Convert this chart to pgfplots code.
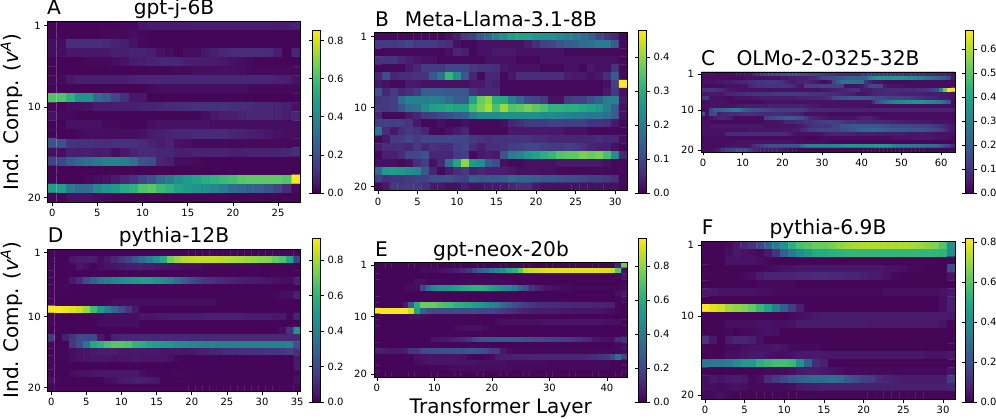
\documentclass[border=0pt]{standalone}
\usepackage{fontspec}
\setmainfont{DejaVu Sans}
\usepackage{pgfplots}
\pgfplotsset{compat=1.18}
% values in hundredths, one \hmrow per component; rows end in 1s when cut short
\newcount\hmx \newcount\hmy
\newcommand\hmbegin[1]{\def\hmcols{#1}\hmy=0 \gdef\hmbuf{}}
\newcommand\hmcell[1]{\xdef\hmbuf{\hmbuf (\the\hmx,\the\hmy) [#1e-2]}\advance\hmx 1 }
\def\hmloop#1 {\ifx!#1\else\ifnum\hmx<\hmcols\relax\hmcell{#1}\fi\expandafter\hmloop\fi}
\def\hmpad{\ifnum\hmx<\hmcols\relax\hmcell{1}\expandafter\hmpad\fi}
\newcommand\hmrow[1]{\advance\hmy 1 \hmx=0 \hmloop#1 ! \hmpad}
\def\hmplotb#1{\addplot[matrix plot,draw=mapped color,line width=0.3pt,point meta=explicit] coordinates {#1};}
\newcommand\hmplot[1]{\expandafter\hmplotb\expandafter{#1}}
\newcommand\tk{\fontsize{10}{11}\selectfont}
\newcommand\ttl{\fontsize{20.2}{22}\selectfont}
\pgfplotsset{
  hm/.style={
    scale only axis, colormap/viridis, y dir=reverse,
    ymin=0.5, ymax=20.5, ytick={1,10,20}, enlargelimits=false,
    tick align=outside, tick pos=left, point meta min=0, axis on top,
    tick label style={font=\tk}, /pgf/number format/assume math mode=true,
    major tick length=3.5pt, tick style={black,line width=0.7pt},
    axis line style={line width=0.7pt}, anchor=south west, colorbar,
  },
  cb/.style n args={4}{
    colorbar style={at={(#1,#2)}, anchor=south west, scale only axis, width=8.5pt, height=#3,
      ytick={#4}, tick align=outside, major tick length=3.5pt, tick style={black,line width=0.7pt},
      axis line style={line width=0.7pt},
      yticklabel style={font=\tk,/pgf/number format/.cd,fixed,fixed zerofill,precision=1,assume math mode=true}},
  },
}
% A gpt-j-6B
\hmbegin{28}
\hmrow{1 1 1 1 1 1 1 1 2 2 5 6 6 6 6 6 7 7 7 7 7 7 7 7 7 6 6 8}
\hmrow{1 1 1 1 1 1 2 2 2 3 2}
\hmrow{3 3 11 11 11 11 10 8 7 4 2}
\hmrow{3 3 5 5 5 5 5 7 7 8 8 7 4 3 1 3 3 5 7 9 10 11 11 11 10 7 1 9}
\hmrow{1 1 1 1 2 2 2 3 4 6 7 8 9 9 9 7 7 6 6 5 4 3 2}
\hmrow{1 1 1 1 1 1 1 1 1 1 1 1 1 1 2 2 3 3 3 3 3 3 2 2 2 2 2 2}
\hmrow{2 2 5 7 7 7 7 7 7 8 9 9 9 9 9 9 9 9 9 9 9 9 9 9 9 8 7 4}
\hmrow{1 1 1 1 1 1 1 1 1 1 1 2 3 3 3 3 3 3 3 3 3 3 2 2 2 2 2 2}
\hmrow{62 62 55 44 44 30 25 18 12 5 5}
\hmrow{1 1 3 3 4 6 6 7 7 7 8 8 9 10 10 11 12 12 12 12 11 11 10 9 9 8 7 4}
\hmrow{4 2 2 1 1 1 1 1 1 1 1 1 1 1 1 1 1 3 5 7 7 8 9 9 9 8 7 9}
\hmrow{1 1 4 4 4 4 2 2 1 1 1 3 4 4 4 4 4 4 3 3 3 3 3 3 3 3 3 3}
\hmrow{1 1 1 2 3 3 3 3 3 3 4 6 7 8 9 9 10 10 10 10 9 8 7 6 5 4 3 3}
\hmrow{22 22 13 12 12 11 11 12 12 12 10 8 6 8 4 3 2 2 2 2 2 2 2 2 2 2 2 2}
\hmrow{3 3 7 7 7 6 6 3 5 8 10 10 9 9 7 7 8 8 8 8 7 7 8 8 8 8 9 11}
\hmrow{18 18 24 28 31 34 38 38 36 32 22 20 9 7 3 3 2}
\hmrow{1}
\hmrow{1 1 1 1 2 3 4 6 9 12 18 22 30 35 42 47 50 53 56 58 60 63 64 64 64 64 62 85}
\hmrow{48 48 35 30 30 40 45 47 52 55 62 64 58 55 50 46 44 42 40 36 30 28 27 25 22 18 10 2}
\hmrow{1 1 4 4 4 2 2}
\let\cellsA\hmbuf
% B Meta-Llama-3.1-8B
\hmbegin{32}
\hmrow{1 1 1 1 1 1 1 1 1 2 4 8 9 14 17 21 24 27 28 28 26 25 25 23 21 19 17 14 10 7 5 1}
\hmrow{8 8 8 9 10 8 8 8 7 6 2 1 1 2 2 2 2 2 2 4 6 9 10 12 14 15 17 18 20 20 14 1}
\hmrow{1 1 1 1 1 1 1 1 1 2 5 4 1 2 2 3 3 3 2 2 2 2 2 2}
\hmrow{7 7 7 5 4 3 2 2 1 1 1 1 1 1 2 2 2 2 1 1 1 2 2 2 2 2 2 2 2 2 2 1}
\hmrow{1 1 1 1 3 5 8 8 8 10 10 10 8 7 7 6 3 2 2 2 2 1 1 1 2 2 1 3 2 2 7 1}
\hmrow{5 11 5 6 6 7 7 13 18 32 24 13 5 1 5 5 1 3 6 6 6 6 6 6 4 3 3 2 3 6 14 1}
\hmrow{3 2 1 1 3 3 2 2 2 2 2 2 3 3 5 4 1 1 1 1 1 1 1 1 1 1 1 1 1 2 9 48}
\hmrow{12 5 8 5 6 8 14 14 14 13 13 13 7 5 5 5 1 1 1 1 1 1 1 1 1 1 1 1 1 3 8 2}
\hmrow{7 8 9 17 21 21 20 21 20 17 14 14 28 37 40 30 29 21 16 11 10 8 2 2 8 9 9 12 15 20 21 3}
\hmrow{8 8 9 12 17 18 23 27 28 29 28 28 34 38 42 34 41 35 36 38 36 34 31 31 30 30 29 28 26 21 14 2}
\hmrow{5 1 1 1 3 5 8 9 10 11 13 14 20 23 23 23 24 24 24 24 24 23 23 22 21 20 20 19 19 17 14 2}
\hmrow{9 9 9 9 7 3 1 1 2 1 1 2 1 1 1 1 2 5 6 8 8 8 9 9 9 9 9 7 7 6 3 1}
\hmrow{18 6 3 6 8 7 5 1 1 2 3 5 1 1 1 1 1 3 3 3 3 3 3 3 2 2 2}
\hmrow{1 3 8 8 10 8 10 10 10 10 10 10 8 7 6 7 7 7 7 7 6 6 5 5 5 5 5 5 6 5 5 2}
\hmrow{4 6 6 6 5 8 5 7 6 6 9 10 6 4 6 6 7 9 9 10 10 9 8 8 9 8 7 5 4 4 2 1}
\hmrow{1 4 4 6 10 10 12 5 5 5 8 9 1 3 4 3 13 20 22 26 28 30 32 35 36 36 38 37 38 34 24 5}
\hmrow{2 2 2 1 2 6 9 2 5 17 28 40 26 24 14 11 2 1 1 2 2 2 2 3 3 3 3 3 3 2}
\hmrow{17 26 27 26 24 22 13 5 1 3 6 8 4 5 4 4 4 3 2 2 2 2 2}
\hmrow{9 6 7 7 8 9 9 11 11 12 10 9 14 13 13 13 14 16 15 15 14 13 13 12 11 11 10 9 9 8 6 1}
\hmrow{1 3 8 8 8 8 6 3 3 2 2 4 2 2 3 3 3 5 6 6 3 2 2 2 2 2 2 2 2 2 2 1}
\let\cellsB\hmbuf
% C OLMo-2-0325-32B
\hmbegin{64}
\hmrow{3 3 3 3 2 2 2 2 3 3 3 3 4 6 8 10 12 13 14 14 15 15 15 15 15 15 14 14 14 13 12 11 10 10 8 8 8 8 8 8 9 10 11 11 11 11 11 11 10 10 10 9 9 9 8 8 8 8 8 7 7 7 5 3}
\hmrow{2 2 2 2 2 2 2 2 2 2 2 3 3 3 3 3 3 3 3 3 4 4 5 5 6 6 6 7 8 10 14 14 15 15 17 18 20 20 20 20 20 22 30 34 36 36 36 36 36 36 35 35 34 33 32 30 28 26 24 22 20 18 14 4}
\hmrow{3 3 3 3 4 4 5 5 6 6 7 7 8 9 10 10 11 11 11 10 9 7 5 5 6 6 7 6 5 4 2 2 4 14 20 25 26 26 26 25 25 10 6 4 3 3 2 2 2 2 2 2 2 2 2 2 2 2 2 2 2 2 2 2}
\hmrow{2 2 2 2 2 2 3 3 3 3 3 3 7 8 9 9 10 10 10 10 10 10 9 8 5 4 12 12 12 12 13 13 13 13 13 12 3 3 3 3 4 8 14 15 15 14 5 3 3 3 3 3 2 2 2 2 2 2 2 2 2 2 2 2}
\hmrow{9 9 10 10 8 7 5 4 4 3 3 3 3 3 3 3 3 3 3 3 3 3 3 3 3 3 3 3 3 3 4 4 5 5 6 6 7 8 9 9 5 5 5 6 7 7 8 8 8 8 8 8 8 8 9 9 10 11 14 15 32 52 67 67}
\hmrow{4 4 4 4 4 4 6 7 7 8 8 9 9 10 10 10 10 10 11 11 11 11 11 11 11 11 11 10 10 10 10 9 8 8 7 7 6 6 5 3 3 3 5 6 7 7 7 7 7 7 6 6 6 6 6 6 5 5 5 5 5 5 4 3}
\hmrow{10 11 3 3 3 3 2 2 3 3 3 3 3 4 4 5 5 5 5 5 5 5 5 5 6 6 6 6 7 7 7 8 10 14 15 16 17 18 18 18 18 18 17 16 15 15 14 14 13 13 13 12 12 11 10 9 8 7 7 6 5 5 4 3}
\hmrow{2 2 3 3 3 3 3 2 2 2 2 2 2 2 2 2 3 3 3 3 3 3 3 3 3 3 3 3 3 3 3 3 3 3 3 3 3 3 3 3 3 3 3 8 16 20 24 27 30 32 33 33 34 35 35 36 35 33 32 30 28 22 18 2}
\hmrow{3 3 3 3 3 3 3 3 3 4 4 5 5 5 5 5 5 6 6 6 6 6 6 6 6 6 5 5 4 4 3 3 3 3 3 3 3 3 3 3 3 3 2 2 2 2 2 2 2 2 2 2 2 2 2 2 2 2 2 2 2 2 2 2}
\hmrow{1 2 13 20 20 22 24 26 28 28 22 20 18 17 16 15 14 13 12 12 12 12 12 12 12 12 10 8 7 7 7 7 7 7 6 6 6 6 6 6 6 6 6 6 6 6 6 6 6 6 6 6 6 6 6 6 6 6 6 6 6 6 6 6}
\hmrow{20 3 15 15 5 7 7 8 8 8 9 9 9 9 8 8 8 8 8 8 8 7 7 6 6 5 3 3 3 3 3 3 2 2 2 2 2 2 2 2 2 2 2 2 2 2 2 2 2 2 2 2 2 2 2 2 2 2 2 2 2 2 2 2}
\hmrow{2 2 3 5 6 7 6 5 2 2 2 2 2 2 2 2 13 14 15 17 18 20 20 20 18 16 12 8 6 6 5 4 3 3 3 3 3 3 3 4 6 6 6 5 4 3 2 2 2 2 2 2 2 2 2 2 2 2 2 2 2 2 2 2}
\hmrow{3 3 2 2 2 2 2 2 2 2 2 2 2 2 2 2 3 3 3 3 4 6 7 7 8 8 9 9 10 11 12 13 13 13 12 11 10 9 9 8 8 8 8 8 8 7 7 7 6 6 6 5 5 5 5 4 4 4 3 3 3 3 3 3}
\hmrow{3 3 4 4 4 4 4 4 4 4 4 4 4 4 4 4 3 3 3 3 3 3 3 3 4 5 7 8 9 10 10 10 11 13 14 16 17 18 19 19 19 19 19 19 18 18 17 16 15 15 15 15 14 14 14 13 13 12 11 10 9 7 5 4}
\hmrow{3 3 3 3 3 3 3 3 3 3 3 3 4 4 4 4 4 4 4 4 4 4 4 5 5 7 9 11 12 13 14 14 14 14 14 15 16 17 18 20 22 22 23 23 23 22 20 20 19 19 19 19 18 18 18 17 17 16 15 14 12 9 6 4}
\hmrow{3 3 3 3 3 3 7 8 8 8 8 8 8 8 8 8 8 8 8 8 8 8 6 4 3 3 3 3 3 3 4 5 6 6 6 6 6 6 6 5 5 5 5 5 5 5 5 5 5 5 5 5 4 4 4 4 4 4 4 3 3 3 3 3}
\hmrow{2 2 2 2 2 2 2 2 2 2 2 2 2 2 2 2 2 2 2 2 2 2 2 2 2 2 1 1 1 1 2 2 2 2 2 2 2 2 2 2 2 2 2 2 2 2 2 2 3 3 3 3 3 4 4 4 4 4 4 3 3 3 3 2}
\hmrow{2 2 2 2 2 2 2 2 3 3 3 3 3 3 3 3 3 3 3 3 3 3 3 3 2 2 2 2 2 2 2 2}
\hmrow{2 2 2 2 2 2 3 3 3 3 3 3 4 8 10 13 15 16 17 18 18 18 18 18 19 24 30 31 31 31 32 32 32 33 33 34 35 36 36 36 36 36 37 37 37 37 36 35 33 31 30 29 28 28 27 26 26 25 25 24 20 15 14 8}
\hmrow{2 2 2 3 5 9 13 13 14 15 15 14 11 7 6 5 5 5 5 5 4 3 2 2}
\let\cellsC\hmbuf
% D pythia-12B
\hmbegin{36}
\hmrow{1}
\hmrow{1 1 1 5 7 7 7 3 6 10 14 18 26 33 40 48 56 72 78 82 83 84 84 84 83 82 81 80 79 78 76 75 70 66 55 18}
\hmrow{1 1 1 2 5 3 1 3 4 5 6 7 7 8 7 6 5 4 4 3 3 3 2 2 2 2 2 2 2 2}
\hmrow{1}
\hmrow{1 1 1 6 11 21 28 36 38 42 46 48 50 52 52 48 45 40 34 27 22 18 15 13 11 10 9 8 7 7 6 5 4 3 3 8}
\hmrow{1 1 2}
\hmrow{1 1 1 1 1 1 1 1 1 1 1 1 1 1 1 1 1 1 1 1 1 1 1 1 1 1 1 1 1 1 1 1 2 3 3 8}
\hmrow{1 1 1 1 1 1 1 1 2 3 3 3 3 3 3 3 3 3 3 3 3 3 3 3}
\hmrow{92 92 90 88 85 78 64 50 40 30 22 14 6}
\hmrow{1 1 1 1 1 1 1 2 3 3 3 3 3 5 5 6 6 7 7 7 7 7 8 8 8 8 8 8 7 7 7 7 6 6 2 9}
\hmrow{1 1 1 1 1 1 1 3 3 3 3 3 3}
\hmrow{1 1 1 1 1 1 1 1 1 1 1 1 1 1 1 1 1 1 1 1 1 1 1 1 1 1 1 1 1 1 1 1 1 3 13 48}
\hmrow{15 1 8 14 20 20 20 6 2 8 9 10 10 10 10 10 10 10 10 10 10 10 10 10 10 10 10 10 10 10 10 10 10 10 10 10}
\hmrow{1 1 1 15 22 35 55 60 65 68 68 66 60 58 54 52 50 48 46 44 43 42 41 41 40 40 40 40 40 40 40 40 40 40 40 22}
\hmrow{1 1 2 3 4 5 6 7 7 7 6 6 6 6 6 6 5 5 5 5 6 7 8 9 10 11 11 12 12 13 13 14 14 15 17 12}
\hmrow{1 1 1 3 4 5 5 5 5 4 5 5 6 5 5 5 5 4 2 1 1 1 1 1 1 1 1 1 1 1 1 1 1 1 1 6}
\hmrow{1 1 1 1 1 1 1 1 1 1 1 1 1 1 1 1 1 1 1 1 1 1 1 1 1 1 1 1 1 1 1 1 1 1 1 6}
\hmrow{1 1 1 3 4 4 5 6 6 6 6 6 6 3 2 1 1 1 2 2 1 1 1 1 1 1 1 1 1 1 1 1 1 1 1 2}
\hmrow{4 2 1 1 1 1 1 1 3 4 6 7 8 8 7 6 1 1 1 1 1 1 1 1 1 1 1 1 1 1 1 1 1 1 1 4}
\hmrow{1}
\let\cellsD\hmbuf
% E gpt-neox-20b
\hmbegin{44}
\hmrow{1 1 1 1 1 1 1 1 1 1 1 1 1 1 1 1 1 1 1 1 1 1 1 1 1 1 1 1 1 1 1 1 1 1 1 1 1 1 1 1 1 1 8 75}
\hmrow{1 1 1 1 1 1 1 1 3 3 3 4 5 6 8 11 14 22 28 33 40 45 50 58 62 72 86 88 90 91 92 92 92 92 92 92 92 92 92 92 91 88 70 4}
\hmrow{1 1 1 1 1 1 1 1 1 1 1 1 1 1 1 1 1 1 1 1 1 1 1 1 1 1 1 1 1 1 1 1 1 1 1 1 1 1 1 1 1 1 2 6}
\hmrow{1 1 1 1 1 1 1 4 4 2 2 2 2 2 2 2 2 2 2 2 2 2 2 2}
\hmrow{1 1 1 1 1 3 3 3 20 35 45 50 50 52 55 58 60 62 62 60 55 52 48 44 40 32 24 14 10 6 5 4 3 3 2 2 2 2 2 2 2 2 2 3}
\hmrow{1 1 1 1 1 1 1 1 1 1 1 1 1 1 1 1 1 1 1 1 1 1 1 1 1 1 1 1 1 1 1 1 1 1 1 1 1 1 1 1 1 1 4 6}
\hmrow{1 1 1 1 1 1 1 1 1 1 1 1 1 1 1 1 1 1 1 1 1 1 1 1 1 1 1 1 1 1 1 1 1 1 1 1 1 1 1 1 1 1 2 3}
\hmrow{1 1 1 1 1 6 30 60 74 74 74 70 68 66 62 60 58 55 52 48 44 40 34 28 24 20 17 15 13 12 12 12 11 11 10 10 10 10 9 9 9 9 2 1}
\hmrow{96 96 96 96 96 96 88 55 30 24 22 22 22 22 22 22 22 22 20 20 20 18 16 14 12 10 9 8 7 7 7 7 6 6 5 5 5 5 5 5 4 3 2 1}
\hmrow{1 1 1 1 1 1 3 4 3 2}
\hmrow{1 1 1 1 1 1 1 1 1 1 1 1 1 1 1 1 1 1 1 1 1 3 4 4 4 4 4 4 4 5 5 5 5 5 5 5 5 5 5 5 4 4 4 2}
\hmrow{1 1 1 1 1 1 1 1 1 1 1 1 1 1 3 4 4 4 4 3}
\hmrow{1}
\hmrow{1 1 1 1 1 1 1 1 1 1 5 5 6 7 9 10 14 20 24 26 26 27 27 27 26 25 24 23 22 21 20 19 18 17 16 14 12 11 6 5 4 4 12 14}
\hmrow{1 1 1 1 1 1 1 1 1 1 1 1 1 1 1 1 1 1 1 1 1 1 1 1 1 1 1 1 1 1 1 1 1 1 1 1 1 1 1 1 1 1 3 3}
\hmrow{8 8 6 6 6 8 14 14 20 22 23 23 24 24 25 24 26 26 24 22 16 16 6 3 2 2 2 2 2 2 2 2 2 2 2 2 2 2 2 2 2 2 2 3}
\hmrow{1 1 1 1 1 1 1 4 4 5 5 5 5 5 5 4 2 1 1 2 3 7 8 8 9 9 9 10 10 10 10 10 10 10 10 10 10 12 12 14 15 20 35 20}
\hmrow{1 1 1 1 1 1 1 3 4 5 5 5 5 5 5 5 5 5 4 4 4 4 4 3 3 3 3 3 3 3 2 2 2 2 2 2 2 2 2 2 2}
\hmrow{1 1 1 1 1 1 1 1 1 1 2 2 2 3 3 3 3 3 3 3 3 3 3 3 2 2 2 2 2 2 2 2 2 2 2 2 2 2 2 2 2}
\hmrow{1}
\let\cellsE\hmbuf
% F pythia-6.9B
\hmbegin{32}
\hmrow{1 1 1 2 5 9 12 17 25 35 42 52 58 60 63 63 65 68 70 71 72 72 72 72 72 72 71 70 68 66 60 42}
\hmrow{1 1 1 3 5 4 3 2 5 12 25 33 40 45 50 50 52 53 54 54 54 54 54 54 54 54 54 54 54 54 53 40}
\hmrow{1 1 1 4 4 4 4 3 2}
\hmrow{1 1 1 1 1 1 1 1 2 3 4 4 5 5 5 5 5 5 5 5 5 5 5 4 4 3 2 2 1 1 1 18}
\hmrow{1 1 1 1 1 2 3 6 8 8 8 8 9 9 10 10 9 9 8 8 7 6 5 4 2 1 1 1 1 1 1 4}
\hmrow{1 1 1 1 1 1 1 2 2 2 2 2}
\hmrow{5 5 4 4 4 4 4 3 3 2 2 2 2 2 2 2 2 2 2 2 2 2 2 3 3 3 3 3 3 3 4 5}
\hmrow{1 1 1 1 1 1 1 1 1 1 1 1 1 1 1 1 1 1 1 1 1 1 1 1 1 1 1 1 1 1 3 7}
\hmrow{82 78 76 70 68 66 62 55 48 35 25 15 7 1 1 1 1 1 1 1 1 1 1 1 1 1 1 1 1 1 3 7}
\hmrow{1 1 1 1 1 1 1 1 1 1 1 2 3 4 5 6 6 6 6 6 6 6 6 6 6 6 6 6 6 6 5 5}
\hmrow{1 1 1 3 3 3 3 4 4 3 3 4 6 6 6 6 6 6 6 6 6 5 5 5 5 5 5 5 5 5 4 1}
\hmrow{1 1 1 2 1 2 2 3 4 3}
\hmrow{12 5 1 6 8 8 7 3}
\hmrow{1 1 1 2 2 3 4 4 4 5 4 2 2 2 2}
\hmrow{1 1 1 3 3 4 5 5 4 3 3 4 5 5 5 5 5 5 5 5 5 5 5 5 5 5 5 5 4 4 4 5}
\hmrow{33 33 33 35 40 45 45 52 55 57 57 55 42 25 10 7}
\hmrow{1 1 1 1 1 1 1 1 2 2 2 3 5 6 6 5 4 3 2 2 2 2 2 2 2 2 2 2 2 2 2 4}
\hmrow{3 5 4 5 6 5 2 3 10 14 18 22 25 27 28 28 30 28 22 19 16 14 10 8 7 6 6 6 6 6 6 14}
\hmrow{3 3 2 3 4 3 2 2 2 2 2 3 5 6 6 7 7 7 7 7 7 7 7 7 7 7 7 7 7 7 7 8}
\hmrow{2 2 3 2}
\let\cellsF\hmbuf
\begin{document}
\begin{tikzpicture}
\path[use as bounding box] (0,0) rectangle (996pt,418pt);
\begin{axis}[hm, at={(47.7pt,216pt)}, width=253pt, height=181pt, xmin=-0.5, xmax=27.5, mesh/cols=28,
  xtick={0,5,...,25}, point meta max=0.856, cb={1.0447}{0.0497}{163pt}{0,0.2,0.4,0.6,0.8}]
\hmplot{\cellsA}
\end{axis}
\begin{axis}[hm, at={(374pt,227.3pt)}, width=253pt, height=158pt, xmin=-0.5, xmax=31.5, mesh/cols=32,
  xtick={0,5,...,30}, point meta max=0.48, cb={1.0435}{-0.0146}{163pt}{0,0.1,0.2,0.3,0.4}]
\hmplot{\cellsB}
\end{axis}
\begin{axis}[hm, at={(701pt,266pt)}, width=254pt, height=80pt, xmin=-0.5, xmax=63.5, mesh/cols=64,
  xtick={0,10,...,60}, point meta max=0.68, cb={1.0394}{-0.5125}{163pt}{0,0.1,0.2,0.3,0.4,0.5,0.6}]
\hmplot{\cellsC}
\end{axis}
\begin{axis}[hm, at={(47.7pt,27pt)}, width=253pt, height=142pt, xmin=-0.5, xmax=35.5, mesh/cols=36,
  xtick={0,5,...,35}, point meta max=0.924, cb={1.0447}{-0.0775}{164pt}{0,0.2,0.4,0.6,0.8}]
\hmplot{\cellsD}
\end{axis}
\begin{axis}[hm, at={(374pt,41pt)}, width=253pt, height=115pt, xmin=-0.5, xmax=43.5, mesh/cols=44,
  xtick={0,10,...,40}, point meta max=0.965, cb={1.0435}{-0.2174}{164pt}{0,0.2,0.4,0.6,0.8}]
\hmplot{\cellsE}
\end{axis}
\begin{axis}[hm, at={(701pt,19pt)}, width=254pt, height=158pt, xmin=-0.5, xmax=31.5, mesh/cols=32,
  xtick={0,5,...,30}, point meta max=0.82, cb={1.0394}{-0.019}{164pt}{0,0.2,0.4,0.6,0.8}]
\hmplot{\cellsF}
\end{axis}
\tikzset{pl/.style={anchor=base west,font=\ttl,inner sep=0pt}, tt/.style={anchor=base,font=\ttl,inner sep=0pt},
  big/.style={anchor=base,font=\fontsize{20}{22}\selectfont,inner sep=0pt}}
\node[pl] at (47pt,403pt) {A};
\node[tt] at (174pt,403pt) {gpt-j-6B};
\node[pl] at (375pt,391pt) {B};
\node[tt] at (501pt,391pt) {Meta-Llama-3.1-8B};
\node[pl] at (701pt,352.3pt) {C};
\node[tt] at (828pt,352.3pt) {OLMo-2-0325-32B};
\node[pl] at (47.7pt,175pt) {D};
\node[tt] at (174pt,175pt) {pythia-12B};
\node[pl] at (375pt,161.3pt) {E};
\node[tt] at (501pt,161.3pt) {gpt-neox-20b};
\node[pl] at (701.7pt,183pt) {F};
\node[tt] at (828pt,183pt) {pythia-6.9B};
\node[big,rotate=90] at (18.5pt,306pt) {Ind. Comp. (\textit{v}\textsuperscript{\textit{A}})};
\node[big,rotate=90] at (18.5pt,98pt) {Ind. Comp. (\textit{v}\textsuperscript{\textit{A}})};
\node[big] at (500.8pt,5pt) {Transformer Layer};
\end{tikzpicture}
\end{document}
